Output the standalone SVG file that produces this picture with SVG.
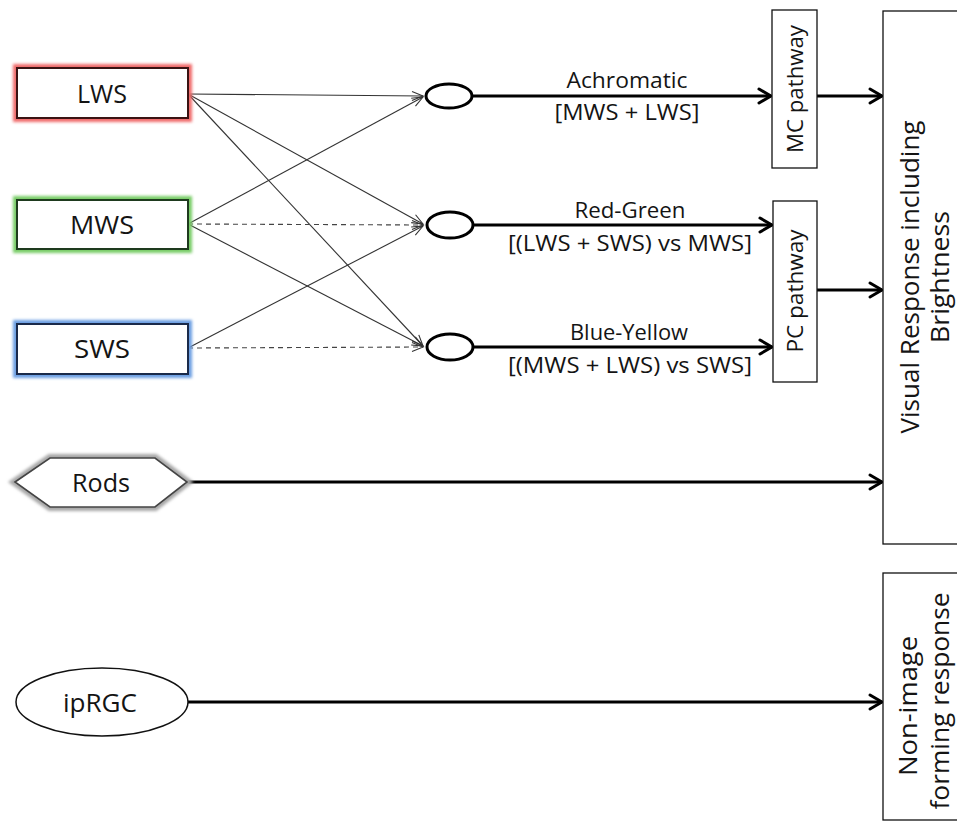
<svg xmlns="http://www.w3.org/2000/svg" width="957" height="824" viewBox="0 0 957 824">
<style>
text{font-family:"Open Sans","Noto Sans","Liberation Sans",sans-serif;fill:#141414}
.lbl{font-size:26px;text-anchor:middle}
.pl{font-size:22px;text-anchor:middle}
.big{font-size:25px;text-anchor:middle}
.box{fill:#fff;stroke:#111;stroke-width:1.3}
.thick{stroke:#000;stroke-width:3;fill:none;marker-end:url(#ah)}
.thin{stroke:#333;stroke-width:1.1;fill:none;marker-end:url(#at)}
.dash{stroke:#444;stroke-width:1.1;fill:none;stroke-dasharray:5 4;marker-end:url(#at)}
.node{fill:#fff;stroke:#000;stroke-width:3}
.glow{fill:none;stroke-width:8;filter:url(#soft)}
</style>
<defs>
<filter id="soft" x="-10%" y="-30%" width="120%" height="160%">
<feGaussianBlur stdDeviation="1.5"/>
</filter>
<marker id="ah" markerUnits="userSpaceOnUse" markerWidth="18" markerHeight="20" viewBox="0 0 18 20" refX="15" refY="10" orient="auto">
<path d="M3,3 L15,10 L3,17" fill="none" stroke="#000" stroke-width="3" stroke-linejoin="round" stroke-linecap="round"/>
</marker>
<marker id="at" markerUnits="userSpaceOnUse" markerWidth="14" markerHeight="12" viewBox="0 0 14 12" refX="12" refY="6" orient="auto">
<path d="M1,1.5 L12,6 L1,10.5" fill="none" stroke="#333" stroke-width="1.1"/>
</marker>
</defs>
<rect width="957" height="824" fill="#fff"/>

<g id="connectors">
<line class="thin" x1="188" y1="94" x2="423" y2="96"/>
<line class="thin" x1="188" y1="94" x2="423" y2="224"/>
<line class="thin" x1="188" y1="94" x2="423" y2="346"/>
<line class="thin" x1="188" y1="224" x2="423" y2="97"/>
<line class="dash" x1="188" y1="224" x2="423" y2="225"/>
<line class="thin" x1="188" y1="224" x2="423" y2="346"/>
<line class="thin" x1="188" y1="348" x2="423" y2="226"/>
<line class="dash" x1="188" y1="348" x2="423" y2="347"/>
<line class="thick" x1="472" y1="96" x2="771" y2="96"/>
<line class="thick" x1="473" y1="225" x2="772" y2="225"/>
<line class="thick" x1="473" y1="347" x2="772" y2="347"/>
<line class="thick" x1="817" y1="96" x2="882" y2="96"/>
<line class="thick" x1="817" y1="290" x2="882" y2="290"/>
<line class="thick" x1="187" y1="482" x2="882" y2="482"/>
<line class="thick" x1="188" y1="702" x2="882" y2="702"/>
</g>

<g id="lws">
<rect class="glow" x="17" y="68" width="171" height="50" stroke="#f06a6a"/>
<rect x="17" y="68" width="171" height="50" fill="#fff" stroke="#3a1212" stroke-width="2"/>
<text class="lbl" x="102" y="103" textLength="50" lengthAdjust="spacingAndGlyphs">LWS</text>
</g>
<g id="mws">
<rect class="glow" x="17" y="200" width="171" height="49" stroke="#78cc66"/>
<rect x="17" y="200" width="171" height="49" fill="#fff" stroke="#1e3a1e" stroke-width="2"/>
<text class="lbl" x="102" y="234" textLength="64" lengthAdjust="spacingAndGlyphs">MWS</text>
</g>
<g id="sws">
<rect class="glow" x="17" y="324" width="171" height="50" stroke="#6a9ee2"/>
<rect x="17" y="324" width="171" height="50" fill="#fff" stroke="#1a2a4a" stroke-width="2"/>
<text class="lbl" x="102" y="358" textLength="56" lengthAdjust="spacingAndGlyphs">SWS</text>
</g>
<g id="rods">
<polygon class="glow" points="15,482 50,458 155,458 187,482 155,507 50,507" stroke="#a8a8a8"/>
<polygon points="15,482 50,458 155,458 187,482 155,507 50,507" fill="#fff" stroke="#444" stroke-width="1.6"/>
<text class="lbl" x="101" y="492" textLength="58" lengthAdjust="spacingAndGlyphs">Rods</text>
</g>
<g id="iprgc">
<ellipse cx="102" cy="702" rx="86" ry="34" fill="#fff" stroke="#111" stroke-width="1.5"/>
<text class="lbl" x="100" y="712" textLength="74" lengthAdjust="spacingAndGlyphs">ipRGC</text>
</g>

<g id="achromatic">
<ellipse class="node" cx="449" cy="96" rx="23" ry="12"/>
</g>
<g id="redgreen">
<ellipse class="node" cx="450" cy="225" rx="23" ry="13"/>
</g>
<g id="blueyellow">
<ellipse class="node" cx="450" cy="347" rx="23" ry="13"/>
</g>

<g id="labels">
<text class="pl" x="627" y="88" textLength="121" lengthAdjust="spacingAndGlyphs">Achromatic</text>
<text class="pl" x="627" y="120" textLength="145" lengthAdjust="spacingAndGlyphs">[MWS + LWS]</text>
<text class="pl" x="630" y="218" textLength="111" lengthAdjust="spacingAndGlyphs">Red-Green</text>
<text class="pl" x="630" y="251" textLength="244" lengthAdjust="spacingAndGlyphs">[(LWS + SWS) vs MWS]</text>
<text class="pl" x="629" y="340" textLength="118" lengthAdjust="spacingAndGlyphs">Blue-Yellow</text>
<text class="pl" x="630" y="373" textLength="244" lengthAdjust="spacingAndGlyphs">[(MWS + LWS) vs SWS]</text>
</g>

<g id="mc">
<rect class="box" x="772" y="10" width="45" height="158"/>
<text class="pl" transform="translate(803,89) rotate(-90)" textLength="128" lengthAdjust="spacingAndGlyphs">MC pathway</text>
</g>
<g id="pc">
<rect class="box" x="773" y="201" width="44" height="181"/>
<text class="pl" transform="translate(803,291) rotate(-90)" textLength="123" lengthAdjust="spacingAndGlyphs">PC pathway</text>
</g>
<g id="visual">
<rect class="box" x="883" y="11" width="80" height="533"/>
<text class="big" transform="translate(919,277) rotate(-90)" textLength="313" lengthAdjust="spacingAndGlyphs">Visual Response including</text>
<text class="big" transform="translate(949,277) rotate(-90)" textLength="132" lengthAdjust="spacingAndGlyphs">Brightness</text>
</g>
<g id="nonimage">
<rect class="box" x="883" y="573" width="80" height="247"/>
<text class="big" transform="translate(917,706) rotate(-90)" textLength="140" lengthAdjust="spacingAndGlyphs">Non-image</text>
<text class="big" transform="translate(949,701) rotate(-90)" textLength="217" lengthAdjust="spacingAndGlyphs">forming response</text>
</g>
</svg>
